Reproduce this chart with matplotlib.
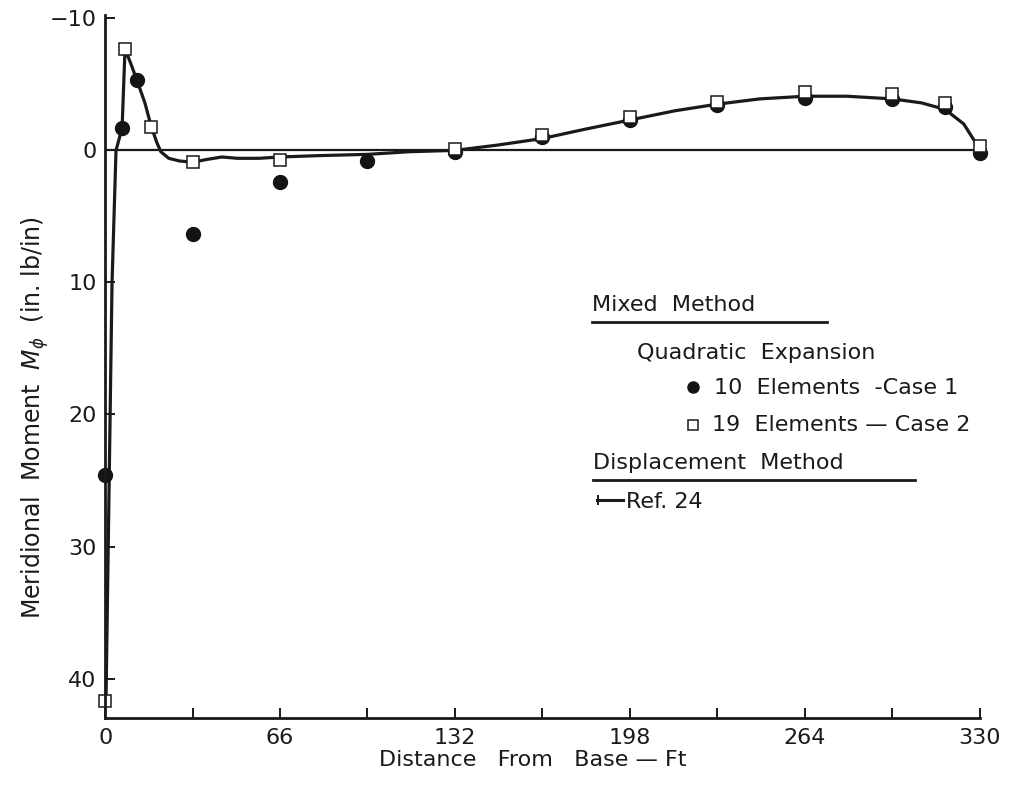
import matplotlib.pyplot as plt
from matplotlib.ticker import MultipleLocator

plt.rcParams['font.family'] = ['DejaVu Sans']

# Mixed method, quadratic expansion, 10 elements (case 1)
case1_x = [0, 6.4, 12.0, 33, 66, 99, 132, 165, 198, 231, 264, 297, 317, 330]
case1_y = [24.6, -1.7, -5.3, 6.3, 2.4, 0.8, 0.1, -1.05, -2.3, -3.4, -4.0, -3.9, -3.3, 0.2]

# Mixed method, quadratic expansion, 19 elements (case 2)
case2_x = [0, 7.5, 17.4, 33, 66, 132, 165, 198, 231, 264, 297, 317, 330]
case2_y = [41.7, -7.7, -1.75, 0.9, 0.7, -0.1, -1.2, -2.5, -3.7, -4.4, -4.3, -3.6, -0.3]

# Displacement method, Ref. 24
ref_x = [0.3, 2.6, 4.1, 6.4, 7.5, 10, 12.0, 15, 17.4, 19.5, 21, 24, 28, 33, 38, 44,
         50, 58, 66, 80, 99, 115, 132, 148, 165, 181, 198, 215, 231, 247, 264, 280,
         297, 308, 317, 324, 330]
ref_y = [42, 10, 0, -1.7, -7.7, -6.4, -5.3, -3.6, -1.8, -0.6, 0.1, 0.6, 0.8, 0.9, 0.7, 0.5,
         0.6, 0.6, 0.5, 0.4, 0.3, 0.1, 0.0, -0.4, -0.9, -1.6, -2.3, -3.0, -3.5, -3.9, -4.1, -4.1,
         -3.9, -3.6, -3.1, -2.0, -0.1]

x_ticks = [0, 66, 132, 198, 264, 330]
y_ticks = [-10, 0, 10, 20, 30, 40]

fig = plt.figure(figsize=(10.11, 7.91), dpi=100)
ax = fig.add_axes([0.104, 0.092, 0.865, 0.889])

ax.axhline(0, color='#1a1a1a', lw=1.6, zorder=1)
ax.plot(ref_x, ref_y, color='#1a1a1a', lw=2.3, zorder=2, clip_on=False)
ax.plot(case1_x, case1_y, 'o', ms=10, color='#141414', zorder=3, clip_on=False)
ax.plot(case2_x, case2_y, 's', ms=8, mfc='white', mec='#1a1a1a', mew=1.1, zorder=4,
        clip_on=False)

ax.set_xlim(0, 330)
ax.set_ylim(43, -10.25)
ax.set_xticks(x_ticks)
ax.set_yticks(y_ticks)
ax.set_yticklabels(['\u221210', '0', '10', '20', '30', '40'])
ax.xaxis.set_minor_locator(MultipleLocator(33))
ax.tick_params(axis='both', which='both', direction='in', length=7, width=1.4,
               labelsize=16, color='#1a1a1a', labelcolor='#1a1a1a')
ax.tick_params(axis='x', pad=7)
ax.tick_params(axis='y', pad=6)
for side in ['top', 'right']:
    ax.spines[side].set_visible(False)
for side in ['left', 'bottom']:
    ax.spines[side].set_linewidth(2.0)
    ax.spines[side].set_color('#1a1a1a')
    ax.spines[side].set_zorder(5)

fig.text(0.527, 0.039, 'Distance   From   Base \u2014 Ft', ha='center', va='center',
         fontsize=16, color='#1a1a1a')
fig.text(0.035, 0.472, r'Meridional  Moment  $M_\phi$  (in. lb/in)', rotation=90,
         ha='center', va='center', fontsize=17, color='#1a1a1a')

# key
def fx(px):
    return px / 1011

def fy(py):
    return 1 - py / 791

kw = dict(fontsize=16, color='#1a1a1a', va='center', ha='left')
fig.text(fx(592), fy(305), 'Mixed  Method', **kw)
fig.text(fx(637), fy(353), 'Quadratic  Expansion', **kw)
fig.text(fx(714), fy(388), '10  Elements  -Case 1', **kw)
fig.text(fx(712), fy(425), '19  Elements \u2014 Case 2', **kw)
fig.text(fx(593), fy(463), 'Displacement  Method', **kw)
fig.text(fx(626), fy(502), 'Ref. 24', **kw)

line_kw = dict(color='#1a1a1a', transform=fig.transFigure)
fig.add_artist(plt.Line2D([fx(592), fx(827)], [fy(322), fy(322)], lw=2.0, **line_kw))
fig.add_artist(plt.Line2D([fx(593), fx(915)], [fy(480), fy(480)], lw=2.0, **line_kw))
fig.add_artist(plt.Line2D([fx(597), fx(623)], [fy(500), fy(500)], lw=2.2, **line_kw))
fig.add_artist(plt.Line2D([fx(598), fx(598)], [fy(496), fy(504)], lw=1.4, **line_kw))
fig.add_artist(plt.Line2D([fx(693)], [fy(387)], marker='o', ms=8, mfc='#141414',
                          mec='#141414', **line_kw))
fig.add_artist(plt.Line2D([fx(693)], [fy(425)], marker='s', ms=6.5, mfc='white',
                          mec='#1a1a1a', mew=1.1, **line_kw))

fig.savefig('out.png', dpi=100)
